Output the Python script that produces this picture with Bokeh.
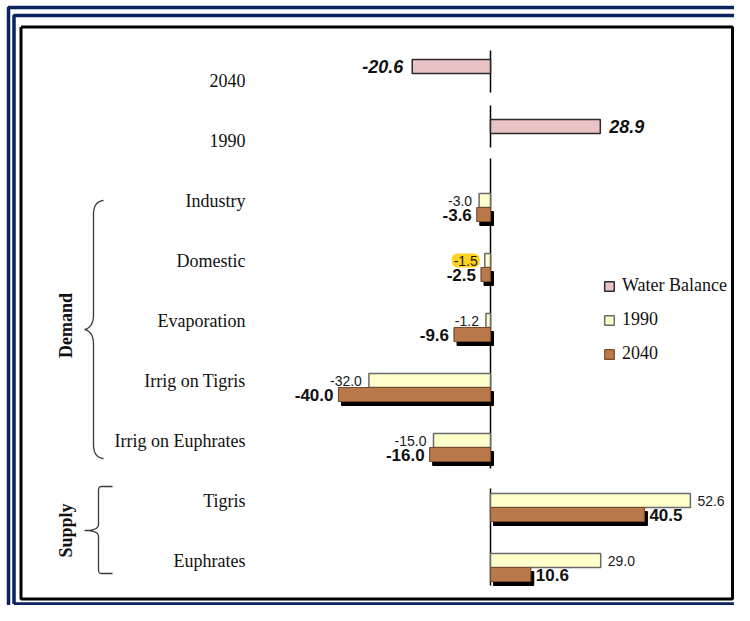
import numpy as np
from bokeh.plotting import figure
from bokeh.models import Range1d, ColumnDataSource, Legend, LegendItem
from bokeh.core.properties import value
from bokeh.embed import file_html
from bokeh.resources import INLINE

# ---------------- data ----------------
rows = ["2040", "1990", "Industry", "Domestic", "Evaporation",
        "Irrig on Tigris", "Irrig on Euphrates", "Tigris", "Euphrates"]
balance_rows = ["2040", "1990"]
balance_values = [-20.6, 28.9]
item_rows = ["Industry", "Domestic", "Evaporation", "Irrig on Tigris",
             "Irrig on Euphrates", "Tigris", "Euphrates"]
values_1990 = [-3.0, -1.5, -1.2, -32.0, -15.0, 52.6, 29.0]
values_2040 = [-3.6, -2.5, -9.6, -40.0, -16.0, 40.5, 10.6]
series_names = ["Water Balance", "1990", "2040"]
group_names = ["Demand", "Supply"]
group_members = [["Industry", "Domestic", "Evaporation", "Irrig on Tigris", "Irrig on Euphrates"],
                 ["Tigris", "Euphrates"]]

# ---------------- geometry (picture pixels -> data) ----------------
W, H = 734, 605
ZERO_PX = 490.0
PX_PER_UNIT = 3.8
ROW0_PX = 80.0
ROW_PX = 60.0


def X(px):
    return (np.asarray(px, dtype=float) - ZERO_PX) / PX_PER_UNIT


def Y(py):
    return (np.asarray(py, dtype=float) - ROW0_PX) / ROW_PX


SLOT = 14.0 / ROW_PX
SHADOW_DX = 3.0 / PX_PER_UNIT
SHADOW_DY = 4.0 / ROW_PX

ypos = {r: i for i, r in enumerate(rows)}

p = figure(width=W, height=H,
           x_range=Range1d(float(X(0)), float(X(W))),
           y_range=Range1d(float(Y(H)), float(Y(0))),
           output_backend="svg", toolbar_location=None,
           x_axis_location=None, y_axis_location=None,
           min_border=0)
p.grid.visible = False
p.outline_line_color = None
p.background_fill_color = "white"
p.border_fill_color = "white"

# ---------------- decorative frames ----------------
NAVY = "#0b2360"
p.line(X([8, 8, W]), Y([H, 7, 7]), line_color=NAVY, line_width=3.5)
p.line(X([13.5, 13.5, W]), Y([603.5, 15, 15]), line_color=NAVY, line_width=3.5)
p.line(X([13.5, W]), Y([603.5, 603.5]), line_color=NAVY, line_width=3.5)
p.line(X([20.5, 732, 732, 20.5, 20.5]), Y([26.5, 26.5, 598.5, 598.5, 26.5]),
       line_color="black", line_width=3)

# ---------------- zero axis segments ----------------
seg_top = [50, 105, 158, 488]
seg_bot = [92, 147, 468, 585]
p.segment(x0=0, x1=0, y0=Y(seg_top), y1=Y(seg_bot), line_color="black", line_width=1.5)

# ---------------- bars ----------------
def bar_source(names, vals, slot):
    ys = [ypos[n] + slot for n in names]
    left = [min(0.0, v) for v in vals]
    right = [max(0.0, v) for v in vals]
    return ColumnDataSource(dict(y=ys, v=vals, left=left, right=right,
                                 sl=[l + SHADOW_DX for l in left],
                                 sr=[r + SHADOW_DX for r in right],
                                 sy=[y + SHADOW_DY for y in ys],
                                 label=[f"{v:.1f}" for v in vals],
                                 align=["right" if v < 0 else "left" for v in vals]))


src_bal = bar_source(balance_rows, balance_values, -SLOT)
src_90 = bar_source(item_rows, values_1990, 0.0)
src_40 = bar_source(item_rows, values_2040, SLOT)

r_bal = p.hbar(y="y", left="left", right="right", height=SLOT, source=src_bal,
               fill_color="#e9c3c6", line_color="#2b2b2b", line_width=1.5)
r_90 = p.hbar(y="y", left="left", right="right", height=SLOT, source=src_90,
              fill_color="#ffffcc", line_color="#6a6a6a", line_width=1.5)
p.hbar(y="sy", left="sl", right="sr", height=SLOT, source=src_40,
       fill_color="black", line_color="black")
r_40 = p.hbar(y="y", left="left", right="right", height=SLOT, source=src_40,
              fill_color="#b9794b", line_color="#7a4a2a", line_width=1.2)

# ---------------- value labels ----------------
src_bal.data["xoff"] = [-9 if v < 0 else 9 for v in balance_values]
src_90.data["xoff"] = [-5 if v < 0 else 5 for v in values_1990]
src_40.data["xoff"] = [-5 if v < 0 else 5 for v in values_2040]
highlight = ["rgba(0,0,0,0)", "#ffd21f", "rgba(0,0,0,0)", "rgba(0,0,0,0)",
             "rgba(0,0,0,0)", "rgba(0,0,0,0)", "rgba(0,0,0,0)"]
src_90.data["bg"] = highlight

p.text(x="v", y="y", text="label", source=src_bal, text_align="align",
       text_baseline="middle", x_offset="xoff",
       text_font=value("Liberation Sans"), text_font_style="bold italic",
       text_font_size="18px", text_color="#111111")
p.text(x="v", y="y", text="label", source=src_90, text_align="align",
       text_baseline="middle", x_offset="xoff",
       text_font=value("Liberation Sans"), text_font_size="14px",
       text_color="#1a1a1a", background_fill_color="bg",
       padding=2, border_radius=6)
p.text(x="v", y="y", text="label", source=src_40, text_align="align",
       text_baseline="middle", x_offset="xoff",
       text_font=value("Liberation Sans"), text_font_style="bold",
       text_font_size="17px", text_color="#111111")

# ---------------- category labels ----------------
p.text(x=[float(X(245))] * len(rows), y=[ypos[r] for r in rows], text=rows,
       text_align="right", text_baseline="middle",
       text_font=value("Liberation Serif"), text_font_size="18px",
       text_color="#111111")

# ---------------- braces ----------------
def qbez(p0, p1, p2, n=14):
    t = np.linspace(0, 1, n)[:, None]
    a, b, c = np.array(p0, float), np.array(p1, float), np.array(p2, float)
    return ((1 - t) ** 2) * a + 2 * (1 - t) * t * b + (t ** 2) * c


def path(parts):
    pts = np.vstack(parts)
    return X(pts[:, 0]), Y(pts[:, 1])


demand = path([qbez((103, 200), (93, 201), (93, 214)),
               [[93, 314]],
               qbez((93, 314), (93, 327), (84, 329)),
               qbez((84, 329), (93, 331), (93, 344)),
               [[93, 444]],
               qbez((93, 444), (93, 457), (103, 458))])
supply = path([[[112, 486]],
               qbez((101, 486), (98, 486), (98, 490)),
               [[98, 524]],
               qbez((98, 524), (98, 530), (84, 530)),
               qbez((84, 530), (98, 530), (98, 536)),
               [[98, 569]],
               qbez((98, 569), (98, 573), (101, 573)),
               [[112, 573]]])
for bx, by in (demand, supply):
    p.line(bx, by, line_color="#3a3a3a", line_width=1.3)

group_y = [float(np.mean([ypos[m] for m in g])) for g in group_members]
p.text(x=[float(X(65))] * 2, y=[group_y[0] + 5 / ROW_PX, group_y[1]], text=group_names,
       angle=np.pi / 2, text_align="center", text_baseline="middle",
       text_font=value("Liberation Serif"), text_font_style="bold",
       text_font_size="18px", text_color="#111111")

# ---------------- legend ----------------
legend = Legend(items=[LegendItem(label=series_names[0], renderers=[r_bal]),
                       LegendItem(label=series_names[1], renderers=[r_90]),
                       LegendItem(label=series_names[2], renderers=[r_40])],
                location=(603, 241), orientation="vertical",
                label_text_font="Liberation Serif", label_text_font_size="18px",
                label_text_color="#111111",
                glyph_width=12, glyph_height=12, label_standoff=7,
                spacing=13, label_height=20, padding=0, margin=0,
                border_line_alpha=0, background_fill_alpha=0)
p.add_layout(legend)

open("out.html", "w").write(file_html(p, INLINE))
